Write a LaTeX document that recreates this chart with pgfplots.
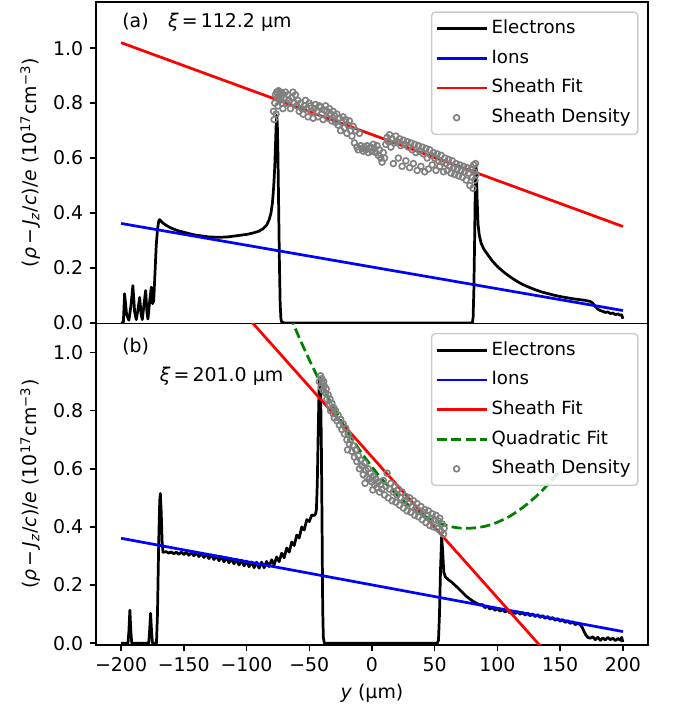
\documentclass[border=0pt]{standalone}
\usepackage{fontspec}
\setmainfont{DejaVu Sans}
\usepackage{pgfplots}
\pgfplotsset{compat=1.18}

\definecolor{mplgreen}{HTML}{008000}
\definecolor{mplgray}{HTML}{808080}

\gdef\lgmark{}
\tikzset{sheathmark/.code={%
  \gdef\lgmark{\draw[mplgray, draw opacity=1, line width=0.9pt] (11pt,0pt) circle[radius=1.6pt];}%
  \tikzset{draw opacity=0}}}

\pgfplotsset{
  panel/.style={
    scale only axis, width=303.6pt, height=176.8pt,
    xmin=-220, xmax=220,
    axis line style={line width=0.8pt},
    tick style={line width=0.8pt, black},
    major tick length=3.5pt, tick align=outside, tick pos=left,
    ytick={0,0.2,0.4,0.6,0.8,1.0},
    yticklabels={0.0,0.2,0.4,0.6,0.8,1.0},
    ylabel={(\textit{ρ}\,−\,\textit{J}\textsubscript{\textit{z}}/\textit{c})/\textit{e} (10\textsuperscript{17}cm\textsuperscript{−3})},
    legend cell align=left,
    legend style={at={(1,1)}, anchor=north east, xshift=-5.2pt, yshift=-5.2pt,
      font=\fontsize{10}{12}\selectfont,
      draw=black!20, line width=0.8pt, rounded corners=2pt,
      fill=white, fill opacity=0.85, text opacity=1,
      inner xsep=2pt, inner ysep=3.5pt, row sep=5pt,
      nodes={inner xsep=2pt, inner ysep=0.5pt, text height=7.8pt, text depth=2.5pt}},
    legend image code/.code={%
      \draw[#1] (0pt,0pt) -- (22pt,0pt);
      \lgmark
      \gdef\lgmark{}%
      \path (0pt,0pt) -- (27.5pt,0pt);},
  },
  elec/.style={black, line width=1.5pt, line join=round},
  fitline/.style={line width=1.5pt},
  sheath/.style={only marks, mark=o, mark size=1.6pt, mplgray, mark options={line width=0.9pt}},
}

\begin{document}
\begin{tikzpicture}[font=\fontsize{10.4}{12.5}\selectfont]
\useasboundingbox (-52.8pt,1.1pt) rectangle (316.8pt,-389.4pt);

% ---- (a) ----
\begin{axis}[panel, at={(0pt,0pt)}, anchor=north west,
  ymin=-0.002, ymax=1.168, xtick=\empty]
\addplot[sheath, forget plot] coordinates {
(-78.5,0.77) (-78.0,0.74) (-77.5,0.80) (-77.0,0.83) (-76.5,0.76) (-76.0,0.84)
(-75.5,0.82) (-75.0,0.79) (-74.5,0.845) (-74.0,0.83) (-73.5,0.81) (-73.0,0.84)
(-72.5,0.82) (-72.0,0.80) (-71.5,0.835) (-71.0,0.78) (-70.0,0.82) (-69.0,0.84)
(-68.0,0.80) (-67.0,0.83) (-66.0,0.81) (-65.0,0.78) (-64.0,0.82) (-63.0,0.84)
(-62.0,0.80) (-61.0,0.83) (-60.0,0.79) (-59.0,0.81) (-58.0,0.77) (-57.0,0.80)
(-56.0,0.78) (-55.0,0.76) (-54.0,0.79) (-53.0,0.81) (-52.0,0.78) (-51.0,0.75)
(-50.0,0.80) (-49.0,0.79) (-48.0,0.77) (-47.0,0.745) (-46.0,0.78) (-45.0,0.795)
(-44.0,0.77) (-43.0,0.75) (-42.0,0.79) (-41.0,0.785) (-40.0,0.76) (-39.0,0.74)
(-38.0,0.775) (-37.0,0.79) (-36.0,0.77) (-35.0,0.745) (-34.0,0.78) (-33.0,0.76)
(-32.0,0.735) (-31.0,0.77) (-30.0,0.755) (-29.0,0.73) (-28.0,0.76) (-27.0,0.72)
(-26.0,0.745) (-25.0,0.70) (-24.0,0.73) (-23.0,0.75) (-22.0,0.71) (-21.0,0.74)
(-20.0,0.69) (-19.0,0.72) (-18.0,0.735) (-17.0,0.70) (-16.0,0.68) (-15.0,0.715)
(-14.0,0.655) (-13.0,0.70) (-12.0,0.64) (-11.0,0.63) (-10.0,0.69) (-9.0,0.645)
(-8.0,0.635) (-7.0,0.625) (-6.0,0.64) (-5.0,0.63) (-4.0,0.645) (-3.0,0.62)
(-2.0,0.635) (-1.0,0.64) (0.0,0.625) (1.0,0.65) (2.0,0.635) (3.0,0.62)
(4.0,0.645) (5.0,0.61) (6.0,0.63) (7.0,0.60) (8.0,0.585) (9.0,0.62)
(10.0,0.60) (11.0,0.65) (12.0,0.675) (13.0,0.66) (14.0,0.685) (15.0,0.64)
(16.0,0.67) (17.0,0.58) (18.0,0.655) (19.0,0.68) (20.0,0.66) (21.0,0.60)
(22.0,0.67) (23.0,0.645) (24.0,0.57) (25.0,0.665) (26.0,0.65) (27.0,0.59)
(28.0,0.66) (29.0,0.64) (30.0,0.565) (31.0,0.655) (32.0,0.63) (33.0,0.58)
(34.0,0.65) (35.0,0.62) (36.0,0.555) (37.0,0.645) (38.0,0.625) (39.0,0.57)
(40.0,0.64) (41.0,0.615) (42.0,0.55) (43.0,0.635) (44.0,0.60) (45.0,0.56)
(46.0,0.63) (47.0,0.61) (48.0,0.575) (49.0,0.62) (50.0,0.60) (51.0,0.555)
(52.0,0.615) (53.0,0.59) (54.0,0.57) (55.0,0.61) (56.0,0.585) (57.0,0.55)
(58.0,0.60) (59.0,0.58) (60.0,0.555) (61.0,0.595) (62.0,0.57) (63.0,0.545)
(64.0,0.59) (65.0,0.565) (66.0,0.54) (67.0,0.58) (68.0,0.56) (69.0,0.535)
(70.0,0.575) (71.0,0.555) (72.0,0.53) (73.0,0.57) (74.0,0.55) (75.0,0.52)
(76.0,0.565) (77.0,0.545) (78.0,0.50) (79.0,0.56) (80.0,0.53) (80.5,0.49)
(81.0,0.575) (81.5,0.55) (82.0,0.52) (82.5,0.58) (83.0,0.54)
};
\addplot[elec, forget plot] coordinates {
(-200,0) (-198.2,0.002) (-197.2,0.106) (-195.6,0.03) (-193.8,0.01) (-192.2,0.06)
(-190.6,0.136) (-189.2,0.04) (-187.9,0.012) (-186.5,0.05) (-185.2,0.093) (-184,0.03)
(-183.1,0.012) (-181.7,0.07) (-180.4,0.118) (-179.4,0.04) (-178.6,0.014) (-177.2,0.08)
(-175.9,0.13) (-174.9,0.07) (-174.0,0.08) (-173,0.18) (-172,0.28) (-171,0.34)
(-170,0.37) (-169.3,0.376) (-167,0.365) (-164,0.355) (-160,0.345) (-155,0.336)
(-150,0.33) (-145,0.324) (-140,0.319) (-135,0.316) (-130,0.313) (-125,0.312)
(-120,0.312) (-115,0.313) (-110,0.316) (-105,0.319) (-100,0.322) (-95,0.327)
(-90,0.334) (-87,0.342) (-84,0.356) (-82,0.375) (-80.5,0.40) (-79.3,0.44)
(-78.3,0.50) (-77.5,0.57) (-76.9,0.65) (-76.4,0.72) (-76.0,0.755) (-75.5,0.73)
(-75.0,0.62) (-74.4,0.42) (-73.8,0.22) (-73.2,0.07) (-72.6,0.015) (-72,0.003)
(-70,0) (80,0) (80.6,0.02) (81.2,0.12) (81.8,0.3) (82.3,0.48) (82.8,0.57)
(83.3,0.55) (83.8,0.45) (84.5,0.36) (85.5,0.32) (87,0.29) (89,0.27) (92,0.25)
(96,0.225) (100,0.205) (105,0.185) (110,0.168) (115,0.153) (120,0.14) (125,0.13)
(130,0.121) (135,0.113) (140,0.107) (145,0.101) (150,0.096) (155,0.092) (160,0.088)
(165,0.085) (170,0.082) (174,0.078) (176,0.072) (178,0.06) (180,0.05) (182,0.045)
(184,0.042) (186,0.038) (188,0.04) (190,0.034) (192,0.036) (194,0.03) (196,0.033)
(197.5,0.028) (199,0.03) (200,0.015)
};
\addplot[fitline, blue, forget plot] coordinates {(-200,0.362) (200,0.045)};
\addplot[fitline, red, forget plot] coordinates {(-200,1.020) (200,0.351)};
\addlegendimage{elec}
\addlegendentry{Electrons}
\addlegendimage{fitline, blue}
\addlegendentry{Ions}
\addlegendimage{fitline, red}
\addlegendentry{Sheath Fit}
\addlegendimage{sheathmark}
\addlegendentry{Sheath Density}
\node[anchor=west] at (rel axis cs:0.036,0.938) {(a)};
\node[anchor=west] at (rel axis cs:0.119,0.938) {\textit{ξ}\,=\,112.2 µm};
\end{axis}

% ---- (b) ----
\begin{axis}[panel, at={(0pt,-176.8pt)}, anchor=north west,
  ymin=-0.006, ymax=1.10,
  xtick={-200,-150,-100,-50,0,50,100,150,200},
  xticklabels={−200,−150,−100,−50,0,50,100,150,200},
  xlabel={\textit{y} (µm)}]
\addplot[sheath, forget plot] coordinates {
(-42,0.90) (-41,0.92) (-40.5,0.88) (-40,0.91) (-39.5,0.895) (-39,0.87)
(-38.5,0.90) (-38,0.885) (-37,0.86) (-36.5,0.875) (-36,0.84) (-35,0.855)
(-34,0.82) (-33.5,0.84) (-33,0.80) (-32,0.825) (-31,0.79) (-30.5,0.81)
(-30,0.775) (-29,0.80) (-28,0.765) (-27,0.785) (-26,0.75) (-25,0.77)
(-24,0.735) (-23,0.755) (-22,0.72) (-21,0.74) (-20,0.70) (-19.5,0.665)
(-19,0.72) (-18,0.685) (-17,0.70) (-16,0.66) (-15,0.68) (-14,0.64)
(-13,0.665) (-12,0.625) (-11,0.645) (-10,0.60) (-9,0.63) (-8,0.61)
(-7,0.58) (-6,0.62) (-5.5,0.55) (-5,0.595) (-4,0.57) (-3,0.60)
(-2,0.565) (-1,0.585) (0,0.555) (0.7,0.527) (1,0.575) (2,0.545)
(3,0.565) (4,0.535) (5,0.555) (6,0.52) (7,0.545) (8,0.53)
(9,0.56) (10,0.51) (11,0.54) (12,0.585) (13,0.50) (14,0.53)
(15,0.55) (16,0.49) (17,0.52) (18,0.54) (19,0.485) (20,0.51)
(21,0.53) (22,0.475) (23,0.50) (24,0.52) (25,0.465) (26,0.49)
(27,0.505) (28,0.455) (29,0.48) (30,0.50) (31,0.45) (32,0.47)
(33,0.49) (34,0.44) (35,0.465) (36,0.48) (37,0.435) (38,0.455)
(39,0.47) (40,0.425) (41,0.45) (42,0.46) (43,0.415) (44,0.44)
(45,0.455) (46,0.405) (47,0.43) (48,0.445) (49,0.40) (50,0.425)
(51,0.44) (52,0.395) (53,0.42) (54,0.43) (55,0.385) (56,0.41)
(57,0.375) (57.5,0.395)
};
\addplot[elec, forget plot] coordinates {
(-200,0) (-194.5,0) (-193.8,0.04) (-193,0.114) (-192.2,0.04) (-191.5,0.0)
(-178,0) (-177.3,0.04) (-176.5,0.103) (-175.7,0.04) (-175,0.0) (-171.8,0.0)
(-171,0.1) (-170,0.35) (-169.2,0.49) (-168.7,0.515) (-168,0.45) (-167.3,0.35)
(-166.6,0.313)
(-164,0.3145) (-162,0.310) (-160,0.314) (-158,0.3076) (-156,0.3132) (-154,0.3058)
(-152,0.3134) (-150,0.305) (-148,0.3132) (-146,0.3024) (-144,0.3116) (-142,0.3008)
(-140,0.311) (-138,0.2976) (-136,0.3082) (-134,0.2948) (-132,0.3064) (-130,0.291)
(-128,0.3034) (-126,0.2878) (-124,0.3002) (-122,0.2836) (-120,0.298) (-118,0.2802)
(-116,0.2944) (-114,0.2766) (-112,0.2908) (-110,0.273) (-108,0.2884) (-106,0.2688)
(-104,0.2852) (-102,0.2656) (-100,0.282) (-98,0.2628) (-96,0.2796) (-94,0.2596)
(-92,0.2788) (-90,0.258) (-88,0.2788) (-86,0.2596) (-84,0.2812) (-82,0.2636)
(-80,0.287) (-78,0.2698) (-76,0.2966) (-74,0.2806) (-72,0.3098) (-70,0.294)
(-68,0.3276) (-66,0.3132) (-64,0.348) (-62,0.336) (-60,0.372) (-58,0.362)
(-56,0.40) (-54,0.3895) (-52,0.425) (-50,0.4185) (-48,0.441) (-46,0.4395)
(-45,0.445) (-44.3,0.46) (-43.6,0.55) (-42.9,0.72) (-42.2,0.87) (-41.6,0.916)
(-41,0.88) (-40.4,0.7) (-39.8,0.4) (-39.3,0.12) (-38.8,0.02) (-38,0.0)
(52,0) (53,0.01) (53.8,0.1) (54.6,0.25) (55.5,0.366) (56.3,0.32) (57.2,0.245)
(58.5,0.228) (61,0.218) (63.5,0.21) (66,0.2) (69,0.188) (72,0.175) (75,0.162)
(78,0.152) (81,0.143) (84,0.136) (86,0.132)
(88,0.133) (90,0.122) (92,0.128) (94,0.117) (96,0.123) (98,0.113) (100,0.1197)
(102,0.110) (104,0.1165) (106,0.107) (108,0.1135) (110,0.104) (112,0.1108)
(114,0.1016) (116,0.1084) (118,0.0992) (120,0.106) (122,0.0968) (124,0.1035)
(126,0.0943) (128,0.101) (130,0.0915) (132,0.098) (134,0.0885) (136,0.095)
(138,0.0855) (140,0.092) (142,0.0822) (144,0.0884) (146,0.0786) (148,0.0848)
(150,0.075) (152,0.0812) (154,0.0714) (156,0.0776) (158,0.0678) (160,0.074)
(162,0.0637) (164,0.0693) (166,0.063) (167.5,0.055) (169,0.04) (170.5,0.028)
(172,0.02) (174,0.017) (176,0.022) (178,0.012) (180,0.02) (182,0.01)
(184,0.018) (186,0.011) (188,0.02) (190,0.012) (192,0.017) (194,0.009)
(196,0.016) (198,0.01) (199,0.02) (200,0.004)
};
\addplot[fitline, blue, forget plot] coordinates {(-200,0.361) (200,0.040)};
\addplot[fitline, red, forget plot] coordinates {(-120,1.2221) (150,-0.0863)};
\addplot[fitline, mplgreen, dash pattern=on 5.55pt off 2.4pt, forget plot] coordinates {
(-70,1.174) (-65,1.1215) (-60,1.071) (-55,1.022) (-50,0.975) (-45,0.930)
(-40,0.887) (-35,0.845) (-30,0.806) (-25,0.768) (-20,0.732) (-15,0.698)
(-10,0.665) (-5,0.635) (0,0.606) (5,0.579) (10,0.554) (15,0.531)
(20,0.510) (25,0.490) (30,0.472) (35,0.456) (40,0.442) (45,0.430)
(50,0.420) (55,0.411) (60,0.404) (65,0.399) (70,0.396) (75,0.395)
(80,0.396) (85,0.398) (90,0.402) (95,0.408) (100,0.416) (105,0.426)
(110,0.437) (115,0.451) (120,0.466) (125,0.483) (130,0.502) (135,0.522)
(140,0.545) (145,0.569) (150,0.595)
};
\addlegendimage{elec}
\addlegendentry{Electrons}
\addlegendimage{fitline, blue}
\addlegendentry{Ions}
\addlegendimage{fitline, red}
\addlegendentry{Sheath Fit}
\addlegendimage{fitline, mplgreen, dash pattern=on 5.55pt off 2.4pt}
\addlegendentry{Quadratic Fit}
\addlegendimage{sheathmark}
\addlegendentry{Sheath Density}
\node[anchor=west] at (rel axis cs:0.036,0.929) {(b)};
\node[anchor=west] at (rel axis cs:0.104,0.835) {\textit{ξ}\,=\,201.0 µm};
\end{axis}
\end{tikzpicture}
\end{document}
